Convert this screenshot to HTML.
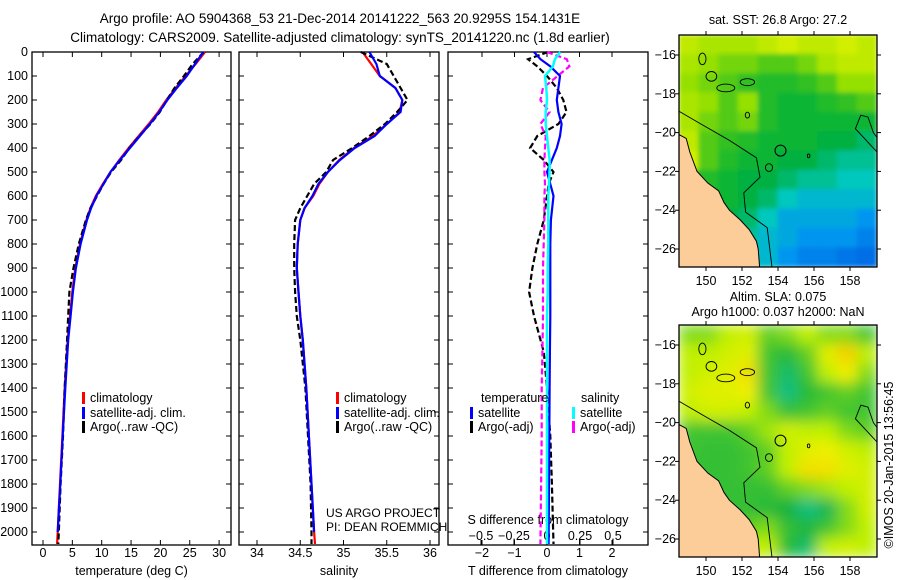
<!DOCTYPE html>
<html><head><meta charset="utf-8"><style>
body{margin:0;background:#fff}
svg{display:block;font-family:"Liberation Sans",sans-serif}
text{font-size:12.5px;fill:#000}
</style></head><body>
<svg id="s" width="900" height="580" viewBox="0 0 900 580">
<defs>
<filter id="bl" x="0" y="0" width="1" height="1"><feGaussianBlur stdDeviation="2.5"/></filter>
<filter id="bl2" x="0" y="0" width="1" height="1"><feGaussianBlur stdDeviation="7"/></filter>
<clipPath id="c1"><rect x="679" y="35" width="198" height="232"/></clipPath>
<clipPath id="c2"><rect x="679" y="325" width="198" height="232"/></clipPath>
</defs>
<text x="340" y="23" text-anchor="middle" style="font-size:13.5px">Argo profile: AO 5904368_53 21-Dec-2014 20141222_563 20.9295S 154.1431E</text>
<text x="340" y="42" text-anchor="middle" style="font-size:13.5px">Climatology: CARS2009. Satellite-adjusted climatology: synTS_20141220.nc (1.8d earlier)</text>
<g id="g"></g>
<text x="893" y="465" text-anchor="middle" transform="rotate(-90 893 465)">©IMOS 20-Jan-2015 13:56:45</text>
</svg>
<script>
// ---- data ----
const depths = [0,50,100,150,200,250,300,350,400,450,500,550,600,650,700,800,900,1000,1100,1200,1400,1600,1800,2000,2050];
const tempClim = [27.6,26,24.3,22.6,21,19.6,18,16.3,14.6,13,11.5,10.2,9,8.1,7.4,6.3,5.5,5,4.6,4.2,3.7,3.3,2.9,2.5,2.4];
const tempSat = [27.3,25.9,24.5,22.8,21.2,19.8,18.2,16.5,14.8,13.1,11.5,10.3,9.1,8.2,7.5,6.4,5.6,5.1,4.7,4.3,3.8,3.35,2.95,2.5,2.5];
const tempArgo = [27.4,25.5,24,22.4,21.1,19.9,18.3,16.4,14.7,13.3,11.6,10.3,9.2,8.1,7.3,6.1,5.2,4.5,4.3,4.1,3.7,3.4,3.0,2.7,2.6];
const salClim = [35.22,35.32,35.42,35.6,35.68,35.65,35.5,35.34,35.12,34.95,34.82,34.72,34.65,34.55,34.5,34.47,34.46,34.48,34.5,34.53,34.57,34.6,34.63,34.66,34.67];
const salSat = [35.3,35.38,35.42,35.6,35.68,35.66,35.5,35.36,35.13,34.96,34.82,34.71,34.64,34.55,34.5,34.47,34.46,34.48,34.5,34.53,34.57,34.6,34.63,34.66,34.66];
const salArgo = [35.2,35.5,35.58,35.66,35.74,35.62,35.48,35.3,35.1,34.88,34.8,34.66,34.58,34.5,34.44,34.43,34.43,34.44,34.46,34.5,34.56,34.59,34.62,34.63,34.63];
const diffDepths = [0,30,60,100,150,200,250,300,350,400,450,500,550,600,700,800,900,1000,1100,1250,1400,1600,1800,2050];
const dTsat = [-0.4,-0.2,0.1,0.4,0.35,0.3,0.35,0.45,0.4,0.3,0.15,0,0.1,0.2,0.12,0.1,0.1,0.1,0.1,0.09,0.08,0.07,0.06,0.05];
const dTargo = [0.03,-0.58,-0.3,0,0.3,0.5,0.6,0.35,-0.3,-0.52,-0.1,0.2,0.05,0,-0.1,-0.3,-0.45,-0.55,-0.4,-0.1,0,0.1,0.15,0.2];
const dSsat = [0.1,0.06,0.045,-0.015,-0.005,0,-0.01,-0.01,0,0.01,0.02,0.02,0.015,0.01,0.01,0.01,0.005,0.005,0,0,0,0,0,0];
const dSargo = [0,0.15,0.17,0.08,-0.03,-0.05,0.02,-0.05,-0.01,-0.015,-0.02,-0.02,-0.015,-0.02,-0.02,-0.025,-0.03,-0.03,-0.03,-0.035,-0.04,-0.04,-0.045,-0.05];
const depthTicks = [0,100,200,300,400,500,600,700,800,900,1000,1100,1200,1300,1400,1500,1600,1700,1800,1900,2000];
const tempTicks = [0,5,10,15,20,25,30];
const salTicks = [34,34.5,35,35.5,36];
const tdTicks = [-2,-1,0,1,2];
const sdTicks = [-0.5,-0.25,0,0.25,0.5];
const lonTicks = [150,152,154,156,158];
const latTicks = [-16,-18,-20,-22,-24,-26];
const sstGrid = [
[.9,.85,.85,.85,.9,.95,.9,.9,.95,.9],
[.85,.8,.75,.75,.7,.7,.75,.85,.9,.9],
[.8,.75,.7,.65,.6,.6,.65,.7,.8,.8],
[.85,.8,.7,.8,.6,.55,.55,.6,.65,.7],
[.85,.75,.7,.75,.6,.55,.55,.55,.55,.55],
[.9,.7,.65,.6,.55,.55,.55,.5,.5,.45],
[.95,.7,.6,.55,.55,.5,.5,.45,.4,.4],
[.6,.6,.55,.5,.5,.45,.4,.4,.35,.35],
[.6,.55,.55,.5,.45,.35,.3,.3,.3,.3],
[.55,.55,.5,.45,.35,.25,.25,.25,.25,.2],
[.5,.5,.45,.4,.3,.25,.2,.2,.2,.15],
[.45,.45,.3,.35,.3,.2,.15,.15,.12,.1]];
const slaGrid = [
[.6,.6,.7,.75,.55,.6,.7,.6,.6,.5],
[.7,.7,.75,.8,.5,.4,.55,.8,.95,.7],
[.7,.75,.8,.9,.5,.2,.5,.7,.85,.6],
[.75,.8,.8,.85,.5,.15,.4,.5,.55,.5],
[.7,.75,.75,.7,.6,.45,.5,.55,.5,.5],
[.5,.5,.5,.55,.65,.75,.7,.7,.6,.55],
[.5,.45,.45,.5,.55,.7,.8,.85,.75,.7],
[.45,.45,.45,.5,.55,.7,.9,.9,.8,.75],
[.45,.45,.45,.45,.45,.55,.6,.65,.7,.75],
[.45,.45,.45,.45,.4,.3,.15,.25,.6,.75],
[.5,.5,.5,.55,.6,.45,.35,.5,.6,.7],
[.5,.5,.6,.7,.7,.4,.2,.7,.75,.7]];
const coast = [[148.5,-20.1],[148.9,-20.3],[149.1,-21],[149.5,-22],[150.1,-22.6],[150.7,-23],[151.0,-23.6],[151.3,-24],[151.9,-24.5],[152.4,-25],[152.8,-25.6],[152.9,-26],[153.0,-27.2],[148.5,-27.2]];
const contourA = [[148.5,-18.9],[149.8,-19.6],[151.3,-20.4],[152.8,-21.3],[153,-22.3],[152.1,-23.1],[152.2,-24.1],[153.4,-24.9],[153.7,-27.2]];
const contourB = [[159.7,-21.2],[159.2,-20.7],[158.7,-20.2],[158.3,-19.8],[158.6,-19.1],[159,-19.2],[159.3,-20],[159.7,-20.5]];

// ---- helpers ----
const NS='http://www.w3.org/2000/svg';
const G=document.getElementById('g');
function mk(tag,attrs,parent){const e=document.createElementNS(NS,tag);for(const k in attrs)e.setAttribute(k,attrs[k]);(parent||G).appendChild(e);return e;}
const yD = d => 52 + d*0.24;
const PB = 545;
function lerp(c1,c2,t){return c1.map((v,i)=>Math.round(v+(c2[i]-v)*t));}
function scaleColor(stops,v){for(let i=1;i<stops.length;i++){if(v<=stops[i][0]){const t=(v-stops[i-1][0])/(stops[i][0]-stops[i-1][0]);const c=lerp(stops[i-1][1],stops[i][1],t);return 'rgb('+c.join(',')+')';}}const c=stops[stops.length-1][1];return 'rgb('+c.join(',')+')';}
const sstStops=[[0,[0,70,220]],[0.2,[0,150,240]],[0.35,[0,200,190]],[0.5,[0,176,64]],[0.65,[50,192,32]],[0.8,[150,224,0]],[1,[232,244,0]]];
const slaStops=[[0,[0,208,192]],[0.3,[16,176,64]],[0.5,[64,196,48]],[0.7,[192,240,0]],[0.85,[240,240,0]],[1,[248,192,0]]];

function panel(x0,x1,name,xs,ticks,fmt,labelY,axisTitle,bottomTicks){
  mk('rect',{x:x0,y:52,width:x1-x0,height:PB-52,fill:'none',stroke:'#000','stroke-width':1.3,});
  depthTicks.forEach(d=>{const y=yD(d);mk('line',{x1:x0,x2:x0+5,y1:y,y2:y,stroke:'#000'});mk('line',{x1:x1-5,x2:x1,y1:y,y2:y,stroke:'#000'});});
  ticks.forEach(v=>{const x=xs(v);mk('line',{x1:x,x2:x,y1:52,y2:57,stroke:'#000'});if(bottomTicks){mk('line',{x1:x,x2:x,y1:PB-5,y2:PB,stroke:'#000'});}
    const t=mk('text',{x:x,y:labelY,'text-anchor':'middle'});t.textContent=fmt(v);
    
    });
  const at=mk('text',{x:(x0+x1)/2,y:575,'text-anchor':'middle'});at.textContent=axisTitle;
  
  
}
function line(xs,vals,ds,color,dash,name,w){
  const pts=vals.map((v,i)=>xs(v).toFixed(1)+','+yD(ds[i]).toFixed(1)).join(' ');
  const p=mk('polyline',{points:pts,fill:'none',stroke:color,'stroke-width':w||2.2});
  if(dash)p.setAttribute('stroke-dasharray',dash);
  
  
}
function legendEntry(x,y,color,label,name){
  const r=mk('rect',{x:x,y:y-10,width:3,height:12,fill:color});
  
  
  const t=mk('text',{x:x+8,y:y});t.textContent=label;
  
  
}

// depth labels
depthTicks.forEach(d=>{const t=mk('text',{x:28,y:yD(d)+4,'text-anchor':'end'});t.textContent=d;
  
  });

// panel 1 temperature
const xT=v=>43+v*5.87;
panel(32,231,'temperature-panel',xT,tempTicks,v=>v,557,'temperature (deg C)',true);
line(xT,tempClim,depths,'#f00',null,'temperature-climatology-line');
line(xT,tempArgo,depths,'#000','6,3','temperature-argo-line');
line(xT,tempSat.slice(0,24),depths.slice(0,24),'#00f',null,'temperature-satellite-line');
legendEntry(82,402,'#f00','climatology','legend-climatology');
legendEntry(82,417,'#00f','satellite-adj. clim.','legend-satellite');
legendEntry(82,431,'#000','Argo(..raw -QC)','legend-argo');

// panel 2 salinity
const xS=v=>257+(v-34)*86.5;
panel(239,439,'salinity-panel',xS,salTicks,v=>v,557,'salinity',true);
line(xS,salClim,depths,'#f00',null,'salinity-climatology-line');
line(xS,salArgo,depths,'#000','6,3','salinity-argo-line');
line(xS,salSat.slice(0,24),depths.slice(0,24),'#00f',null,'salinity-satellite-line');
legendEntry(336,402,'#f00','climatology','legend-climatology-2');
legendEntry(336,417,'#00f','satellite-adj. clim.','legend-satellite-2');
legendEntry(336,431,'#000','Argo(..raw -QC)','legend-argo-2');
const pi1=mk('text',{x:326,y:517,style:'font-size:12px'});pi1.textContent='US ARGO PROJECT';


const pi2=mk('text',{x:326,y:531,style:'font-size:12px'});pi2.textContent='PI: DEAN ROEMMICH';



// panel 3 differences
const xTd=v=>547+v*32.5;
const xSd=v=>547+v*132;
panel(448,648,'difference-panel',xTd,tdTicks,v=>v===0?'0':(v<0?'\u2212'+(-v):v),557,'T difference from climatology',true);
sdTicks.forEach(v=>{const x=xSd(v);mk('line',{x1:x,x2:x,y1:PB-5,y2:PB,stroke:'#000'});
  const t=mk('text',{x:x,y:540,'text-anchor':'middle'});t.textContent=v===0?'0':(v<0?'\u2212'+(-v):v);
  
  });
const sdt=mk('text',{x:548,y:524,'text-anchor':'middle'});sdt.textContent='S difference from climatology';


line(xTd,dTargo,diffDepths,'#000','6,3','t-diff-argo-line');
line(xSd,dSargo,diffDepths,'#f0f','6,3','s-diff-argo-line');
line(xTd,dTsat,diffDepths,'#00f',null,'t-diff-satellite-line');
line(xSd,dSsat,diffDepths,'#0ff',null,'s-diff-satellite-line',2.5);
const lt=mk('text',{x:481,y:402});lt.textContent='temperature';


const ls=mk('text',{x:581,y:402});ls.textContent='salinity';


legendEntry(470,417,'#00f','satellite','legend-t-satellite');
legendEntry(470,431,'#000','Argo(-adj)','legend-t-argo');
legendEntry(572,417,'#0ff','satellite','legend-s-satellite');
legendEntry(572,431,'#f0f','Argo(-adj)','legend-s-argo');

// maps
function drawMap(top,grid,stops,clip,name,blur){
  const X=lon=>706+(lon-150)*18;
  const Y=lat=>top+20+(-16-lat)*19.4;
  const g=mk('g',{'clip-path':'url(#'+clip+')'});
  
  
  const gf=mk('g',{filter:'url(#'+blur+')'},g);
  const cw=198/10, ch=232/12;
  grid.forEach((row,r)=>row.forEach((v,c)=>{mk('rect',{x:679+c*cw-0.5,y:top+r*ch-0.5,width:cw+1,height:ch+1,fill:scaleColor(stops,v)},gf);}));
  const land=mk('polygon',{points:coast.map(p=>X(p[0])+','+Y(p[1])).join(' '),fill:'#fccc99',stroke:'#000','stroke-width':1},g);
  
  
  mk('polyline',{points:contourA.map(p=>X(p[0])+','+Y(p[1])).join(' '),fill:'none',stroke:'#000','stroke-width':0.9},g);
  mk('polyline',{points:contourB.map(p=>X(p[0])+','+Y(p[1])).join(' '),fill:'none',stroke:'#000','stroke-width':0.9},g);
  [[149.8,-16.2,0.2,0.3],[150.3,-17.1,0.3,0.25],[151.1,-17.7,0.5,0.2],[152.3,-17.4,0.4,0.18],[152.3,-19.1,0.12,0.15],[153.5,-21.8,0.2,0.2],[155.7,-21.2,0.07,0.1]].forEach(e=>mk('ellipse',{cx:X(e[0]),cy:Y(e[1]),rx:e[2]*18,ry:e[3]*19.4,fill:'none',stroke:'#000','stroke-width':0.9},g));
  const prof=mk('circle',{cx:X(154.14),cy:Y(-20.93),r:5.5,fill:'none',stroke:'#000','stroke-width':1},g);
  
  
  mk('rect',{x:679,y:top,width:198,height:232,fill:'none',stroke:'#000','stroke-width':1.3});
  lonTicks.forEach(l=>{const x=X(l);mk('line',{x1:x,x2:x,y1:top-4,y2:top,stroke:'#000'});mk('line',{x1:x,x2:x,y1:top+232,y2:top+236,stroke:'#000'});
    const t=mk('text',{x:x,y:top+250,'text-anchor':'middle'});t.textContent=l;
    
    });
  latTicks.forEach(l=>{const y=Y(l);mk('line',{x1:675,x2:679,y1:y,y2:y,stroke:'#000'});mk('line',{x1:877,x2:881,y1:y,y2:y,stroke:'#000'});
    const t=mk('text',{x:676,y:y+4,'text-anchor':'end'});t.textContent='\u2212'+(-l);
    
    });
}
drawMap(35,sstGrid,sstStops,'c1','sst-map','bl');
drawMap(325,slaGrid,slaStops,'c2','sla-map','bl2');
const m1=mk('text',{x:778,y:24,'text-anchor':'middle'});m1.textContent='sat. SST: 26.8 Argo: 27.2';


const m2=mk('text',{x:778,y:301,'text-anchor':'middle'});m2.textContent='Altim. SLA: 0.075';


const m3=mk('text',{x:778,y:316,'text-anchor':'middle'});m3.textContent='Argo h1000: 0.037 h2000: NaN';


</script>
</body></html>
